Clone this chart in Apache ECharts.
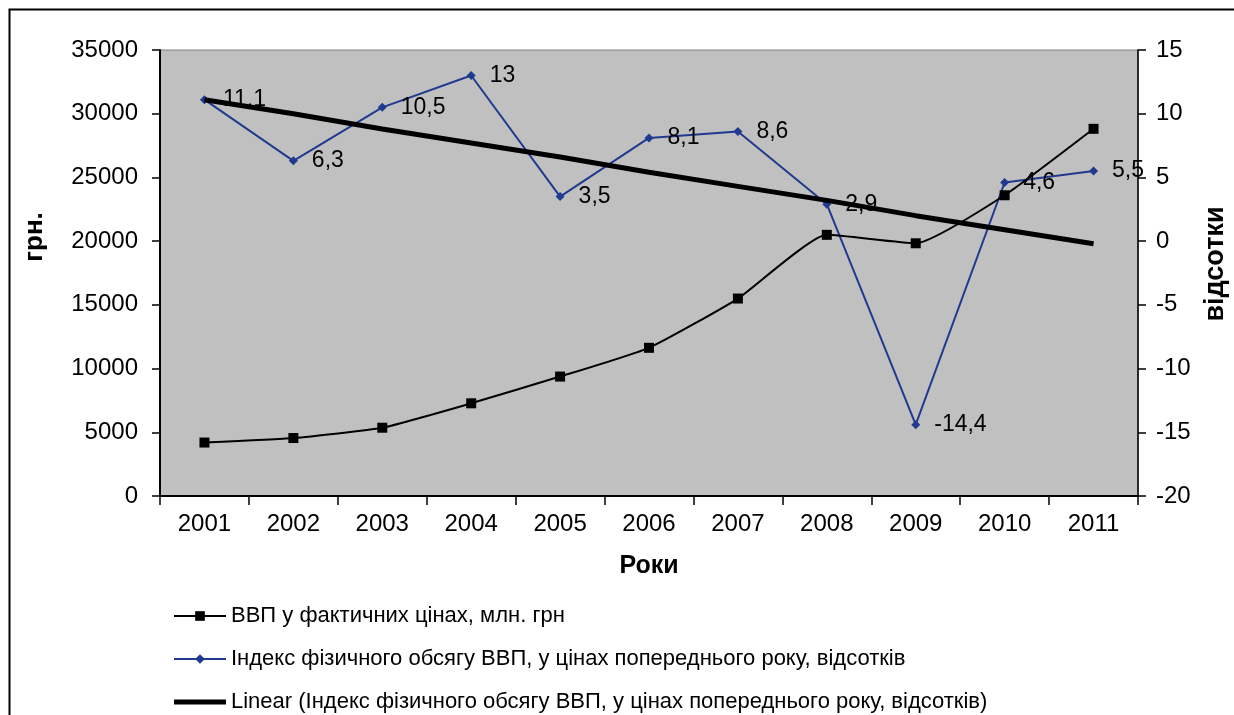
<!DOCTYPE html>
<html>
<head>
<meta charset="utf-8">
<script src="https://cdn.jsdelivr.net/npm/echarts@6/dist/echarts.min.js"></script>
<style>
html,body{margin:0;padding:0;background:#fff;}
#chart{width:1234px;height:715px;}
</style>
</head>
<body>
<div id="chart"></div>
<script>
const years = ['2001','2002','2003','2004','2005','2006','2007','2008','2009','2010','2011'];
const gdpNominal = [4195, 4549, 5359, 7273, 9372, 11630, 15496, 20495, 19832, 23600, 28814];
const gdpIndex = [11.1, 6.3, 10.5, 13, 3.5, 8.1, 8.6, 2.9, -14.4, 4.6, 5.5];
const gdpIndexTrend = [11.1, 10.0, 8.8, 7.7, 6.6, 5.4, 4.3, 3.2, 2.0, 0.9, -0.2];
const leftTicks = {min: 0, max: 35000, interval: 5000};
const rightTicks = {min: -20, max: 15, interval: 5};
const seriesNames = [
  'ВВП у фактичних цінах, млн. грн',
  'Індекс фізичного обсягу ВВП, у цінах попереднього року, відсотків',
  'Linear (Індекс фізичного обсягу ВВП, у цінах попереднього року, відсотків)'
];

const FONT = 'Liberation Sans, Arial, sans-serif';
const chart = echarts.init(document.getElementById('chart'), null, {renderer: 'canvas'});
chart.setOption({
  backgroundColor: '#ffffff',
  animation: false,
  textStyle: {fontFamily: FONT},
  grid: {
    left: 160, right: 96, top: 50, bottom: 219,
    outerBoundsMode: 'none', containLabel: false,
    show: true, backgroundColor: '#c0c0c0', borderColor: '#808080', borderWidth: 1
  },
  graphic: [{
    type: 'rect', left: 7, top: 7, z: 100,
    shape: {x: 0, y: 0, width: 1240, height: 720},
    style: {fill: 'none', stroke: '#000', lineWidth: 2}
  }],
  legend: {
    orient: 'vertical', left: 168, top: 600, height: 160, itemGap: 21,
    itemWidth: 52, itemHeight: 12,
    textStyle: {fontFamily: FONT, fontSize: 22, color: '#000'},
    data: [
      {name: seriesNames[0]},
      {name: seriesNames[1]},
      {name: seriesNames[2], icon: 'path://M0,0 L52,0 L52,5 L0,5 Z', itemStyle: {color: '#000'}}
    ]
  },
  xAxis: {
    type: 'category', data: years, boundaryGap: true,
    name: 'Роки', nameLocation: 'middle', nameGap: 58,
    nameTextStyle: {fontFamily: FONT, fontSize: 25, fontWeight: 'bold', color: '#000'},
    axisLine: {lineStyle: {color: '#000', width: 2}},
    axisTick: {show: true, alignWithLabel: false, length: 9, lineStyle: {color: '#000', width: 1.5}},
    axisLabel: {fontFamily: FONT, fontSize: 24, color: '#000', margin: 16},
    splitLine: {show: false}
  },
  yAxis: [{
    type: 'value', position: 'left',
    min: leftTicks.min, max: leftTicks.max, interval: leftTicks.interval,
    name: 'грн.', nameLocation: 'middle', nameGap: 112, nameRotate: 90,
    nameTextStyle: {fontFamily: FONT, fontSize: 26, fontWeight: 'bold', color: '#000', padding: [0, 0, 0, 72]},
    axisLine: {show: true, lineStyle: {color: '#000', width: 2}},
    axisTick: {show: true, length: 8, lineStyle: {color: '#000', width: 1.5}},
    axisLabel: {fontFamily: FONT, fontSize: 24, color: '#000', margin: 22, formatter: v => String(v)},
    splitLine: {show: false}
  }, {
    type: 'value', position: 'right',
    min: rightTicks.min, max: rightTicks.max, interval: rightTicks.interval,
    name: 'відсотки', nameLocation: 'middle', nameGap: 64, nameRotate: 90,
    nameTextStyle: {fontFamily: FONT, fontSize: 27, fontWeight: 'bold', color: '#000', padding: [0, 0, 0, 18]},
    axisLine: {show: true, lineStyle: {color: '#000', width: 1.5}},
    axisTick: {show: true, length: 8, lineStyle: {color: '#000', width: 1.5}},
    axisLabel: {fontFamily: FONT, fontSize: 24, color: '#000', margin: 18},
    splitLine: {show: false}
  }],
  series: [{
    name: seriesNames[0], type: 'line', yAxisIndex: 0, data: gdpNominal,
    smooth: 0.15,
    symbol: 'rect', symbolSize: 10,
    lineStyle: {color: '#000', width: 2},
    itemStyle: {color: '#000'},
    z: 3
  }, {
    name: seriesNames[1], type: 'line', yAxisIndex: 1, data: gdpIndex,
    symbol: 'diamond', symbolSize: 9,
    lineStyle: {color: '#1f3a8f', width: 2},
    itemStyle: {color: '#1f3a8f'},
    label: {
      show: true, position: 'right', distance: 14,
      fontFamily: FONT, fontSize: 23, color: '#000',
      formatter: p => String(p.value).replace('.', ',')
    },
    z: 2
  }, {
    name: seriesNames[2], type: 'line', yAxisIndex: 1, data: gdpIndexTrend,
    symbol: 'none', showSymbol: false,
    lineStyle: {color: '#000', width: 5},
    itemStyle: {color: '#000'},
    z: 4
  }]
});
</script>
</body>
</html>
